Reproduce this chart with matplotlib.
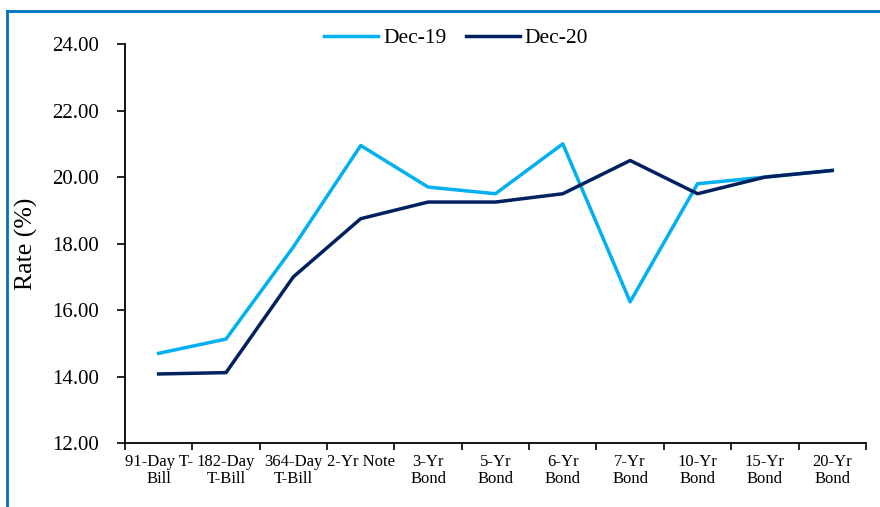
import matplotlib.pyplot as plt
from matplotlib.lines import Line2D

tenors = ["91-Day T-\nBill", "182-Day\nT-Bill", "364-Day\nT-Bill", "2-Yr Note",
          "3-Yr\nBond", "5-Yr\nBond", "6-Yr\nBond", "7-Yr\nBond",
          "10-Yr\nBond", "15-Yr\nBond", "20-Yr\nBond"]
dec19 = [14.70, 15.13, 17.90, 20.95, 19.70, 19.50, 21.00, 16.25, 19.80, 20.00, 20.20]
dec20 = [14.08, 14.12, 17.00, 18.75, 19.25, 19.25, 19.50, 20.50, 19.50, 20.00, 20.20]

plt.rcParams['font.family'] = ['Liberation Serif', 'DejaVu Serif']

fig = plt.figure(figsize=(8.8, 5.07), dpi=100)
ax = fig.add_axes([0.142, 0.126, 0.842, 0.787])

x = [i + 0.5 for i in range(len(tenors))]
ax.plot(x, dec19, color='#00B0F0', lw=2.5, label='Dec-19')
ax.plot(x, dec20, color='#002060', lw=2.5, label='Dec-20')

ax.set_xlim(0, len(tenors))
ax.set_ylim(12, 24)
ax.set_yticks(range(12, 25, 2))
ax.set_yticklabels([f"{v:.2f}" for v in range(12, 25, 2)], fontsize=15)
ax.set_xticks(range(len(tenors) + 1))
ax.set_xticklabels([])
ax.set_xticks(x, minor=True)
ax.set_xticklabels(tenors, minor=True, fontsize=12, linespacing=1.1)
ax.tick_params(axis='x', which='minor', length=0, pad=8)
ax.tick_params(axis='x', which='major', length=5, width=1.2, direction='out')
ax.tick_params(axis='y', length=6, width=1.2, direction='out', pad=13)

for s in ['top', 'right']:
    ax.spines[s].set_visible(False)
for s in ['left', 'bottom']:
    ax.spines[s].set_linewidth(1.3)

ax.set_ylabel('Rate (%)', fontsize=18.5, labelpad=10)

ax.legend(loc='center', bbox_to_anchor=(0.447, 1.015), ncol=2, frameon=False,
          fontsize=15.5, handlelength=2.5, columnspacing=0.9, handletextpad=0.25)

# frame around the exhibit
fig.add_artist(Line2D([0.0085, 1.0], [0.979, 0.979], transform=fig.transFigure,
                      color='#0070C0', lw=2))
fig.add_artist(Line2D([0.0085, 0.0085], [0.0, 0.979], transform=fig.transFigure,
                      color='#0070C0', lw=2))

fig.savefig('out.png', dpi=100)
